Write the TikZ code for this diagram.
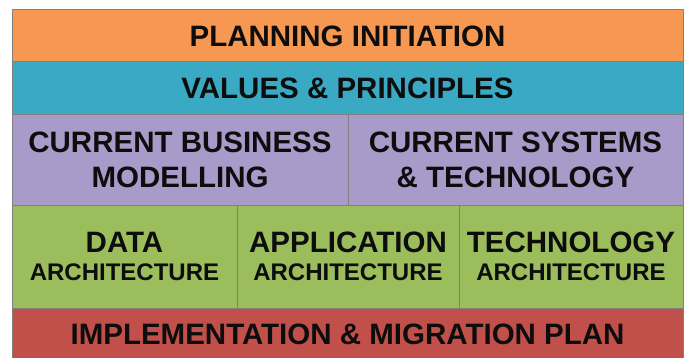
\documentclass[tikz,border=0pt]{standalone}
\usepackage{fontspec}
\setmainfont{Liberation Sans}
\usetikzlibrary{positioning}

\begin{document}
\begin{tikzpicture}[x=1pt,y=-1pt]
  % some colors
  \definecolor{planning}{RGB}{247,152,82}
  \definecolor{values}{RGB}{58,170,196}
  \definecolor{current}{RGB}{168,155,201}
  \definecolor{arch}{RGB}{156,189,92}
  \definecolor{migration}{RGB}{194,80,74}
  \colorlet{edge}{black!50}
  % some styles
  \tikzset{
    layer/.style={
      anchor=north west,
      inner sep=0mm,
      outer sep=0mm,
      align=center,
      font=\bfseries\fontsize{29.5}{35}\selectfont,
      text=black!95,
      draw=edge,
      line width=.35mm,
      fill=#1,
    },
    archlayer/.style={
      layer=arch,
      minimum height=103pt,
      font=\bfseries\fontsize{29.5}{28}\selectfont,
    },
  }
  \useasboundingbox (0,0) rectangle (688,358);
  % top bands
  \node[layer=planning,minimum width=671pt,minimum height=52pt] (plan) at (12,10)
    {PLANNING INITIATION};
  \node[layer=values,minimum width=671pt,minimum height=52pt,below=0pt of plan]
    (values) {VALUES \& PRINCIPLES};
  % current state
  \node[layer=current,minimum width=336pt,minimum height=91pt,
    below right=0pt and 0pt of values.south west] (business)
    {CURRENT BUSINESS\\MODELLING};
  \node[layer=current,minimum width=335pt,minimum height=91pt,right=0pt of business]
    (systems) {CURRENT SYSTEMS\\\& TECHNOLOGY};
  % architectures
  \node[archlayer,minimum width=225pt,below right=0pt and 0pt of business.south west]
    (data) {DATA\\{\fontsize{24}{28}\selectfont ARCHITECTURE}};
  \node[archlayer,minimum width=222pt,right=0pt of data]
    (application) {APPLICATION\\{\fontsize{24}{28}\selectfont ARCHITECTURE}};
  \node[archlayer,minimum width=224pt,right=0pt of application]
    (technology) {TECHNOLOGY\\{\fontsize{24}{28}\selectfont ARCHITECTURE}};
  % bottom band
  \node[layer=migration,minimum width=671pt,minimum height=52pt,
    below right=0pt and 0pt of data.south west] (plan-impl)
    {IMPLEMENTATION \& MIGRATION PLAN};
\end{tikzpicture}
\end{document}
